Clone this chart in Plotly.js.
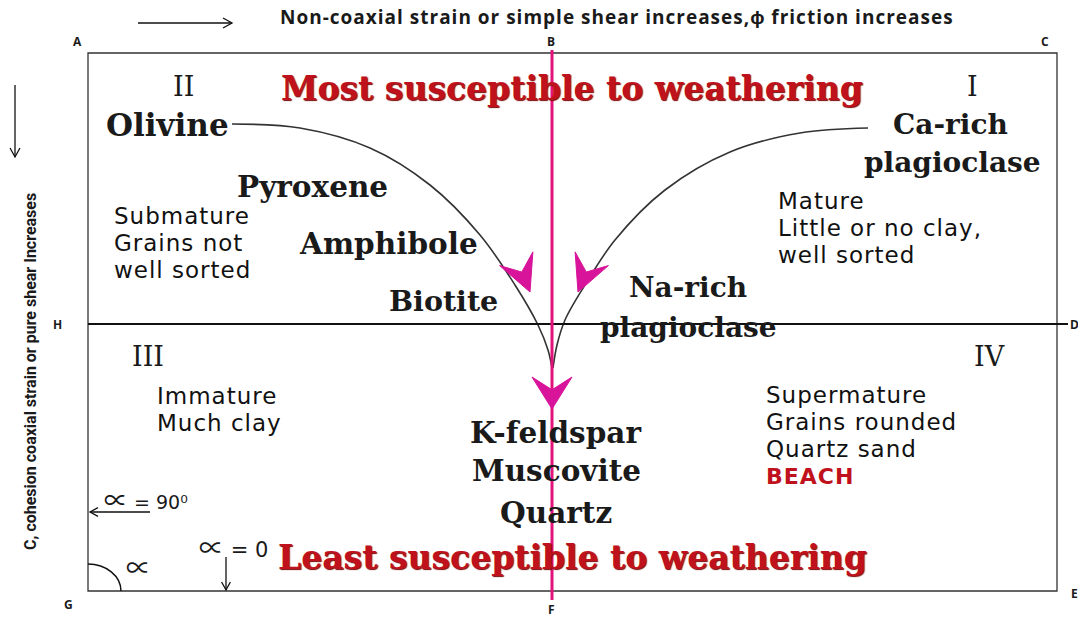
<!DOCTYPE html>
<html>
<head>
<meta charset="utf-8">
<script src="https://cdn.plot.ly/plotly-3.0.1.min.js"></script>
<style>html,body{margin:0;padding:0;background:#fff;}#chart{width:1078px;height:617px;}</style>
</head>
<body>
<div id="chart"></div>
<script>
// ---------- data ----------
const topAxisTitle = 'Non-coaxial strain or simple shear increases,\u03d5 friction increases';
const sideAxisTitle = 'C, cohesion coaxial strain or pure shear Increases';
const cornerLabels = ['A', 'B', 'C', 'H', 'D', 'G', 'F', 'E'];
const quadrantLabels = ['I', 'II', 'III', 'IV'];
const headlineTop = 'Most susceptible to weathering';
const headlineBottom = 'Least susceptible to weathering';
const mineralsLeft = ['Olivine', 'Pyroxene', 'Amphibole', 'Biotite'];
const mineralsRight = ['Ca-rich', 'plagioclase', 'Na-rich', 'plagioclase'];
const mineralsBottom = ['K-feldspar', 'Muscovite', 'Quartz'];
const notesII = ['Submature', 'Grains not', 'well sorted'];
const notesI = ['Mature', 'Little or no clay,', 'well sorted'];
const notesIII = ['Immature', 'Much clay'];
const notesIV = ['Supermature', 'Grains rounded', 'Quartz sand'];
const notesIVHighlight = 'BEACH';
const angleSymbol = '\u221d';
const angleValues = [' = 90\u2070', '', ' = 0'];
// reaction-series curves (diagram pixel units)
const leftCurveX = [232, 300, 370, 430, 480, 515, 538, 548, 552];
const leftCurveY = [124, 128, 148, 185, 235, 285, 325, 350, 368];
const rightCurveX = [868, 800, 730, 665, 615, 585, 565, 557, 553];
const rightCurveY = [128, 133, 152, 190, 240, 285, 320, 345, 368];

// ---------- placement ----------
const W = 1078, H = 617;
const box = {x0: 88, x1: 1057, y0: 53, y1: 591};
const midY = 324, midX = 552;

const serif = 'DejaVu Serif, Liberation Serif, serif';
const sans = 'DejaVu Sans, Open Sans, sans-serif';
const red = '#c0121d';
const magenta = '#d8149a';
const pinkLine = '#e2137a';

const ann = [];
function txt(text, x, y, size, opts) {
  opts = opts || {};
  ann.push(Object.assign({
    text: text, x: x, y: y, xref: 'x', yref: 'y', showarrow: false,
    xanchor: 'center', yanchor: 'middle',
    font: {family: opts.family || serif, size: size, color: opts.color || '#1a1a1a', weight: opts.weight || 'normal', shadow: opts.shadow || 'none'}
  }, opts.extra || {}));
}
function spaced(t, px) { return '<span style="letter-spacing:' + px + 'px">' + t + '</span>'; }
function wideSym(s, px) { return '<span style="font-family:\'Noto Sans CJK JP\';font-size:' + px + 'px">' + s + '</span>'; }

// corner letters
const cornerPos = [[77, 41], [551, 41], [1045, 41], [57, 324], [1074, 324], [68, 604], [551, 609], [1074, 593]];
cornerLabels.forEach((t, i) => txt(t, cornerPos[i][0], cornerPos[i][1], 12, {family: 'Open Sans, sans-serif', weight: 'bold'}));

// top title and left title
txt(spaced(topAxisTitle, 1), 617, 17, 19, {family: 'Open Sans, sans-serif', weight: 'bold'});
txt(sideAxisTitle, 30, 372, 16, {family: 'Liberation Sans Narrow, Roboto, sans-serif', weight: 'bold', extra: {textangle: -90}});

// quadrants
const quadPos = [[972, 86], [183, 86], [148, 356], [989, 356]];
quadrantLabels.forEach((t, i) => txt(t, quadPos[i][0], quadPos[i][1], 27, {family: serif}));

// headlines
const shadow = '1px 1px 1px #7a0a0a';
txt(headlineTop, 572, 88, 33, {color: red, weight: 'bold', shadow: shadow});
txt(headlineBottom, 572, 557, 33, {color: red, weight: 'bold', shadow: shadow});

// minerals
const leftPos = [[167, 125], [312, 186], [388, 243], [443, 301]];
const leftSize = [31, 29.5, 29.5, 28.5];
mineralsLeft.forEach((t, i) => txt(t, leftPos[i][0], leftPos[i][1], leftSize[i], {weight: 'bold'}));
const rightPos = [[950, 124], [952, 162], [688, 287], [688, 327]];
mineralsRight.forEach((t, i) => txt(t, rightPos[i][0], rightPos[i][1], 28, {weight: 'bold'}));
const bottomPos = [[555, 432], [556, 470], [556, 512]];
mineralsBottom.forEach((t, i) => txt(t, bottomPos[i][0], bottomPos[i][1], 29.5, {weight: 'bold'}));

// notes
function notes(lines, x, y0, dy, color) {
  lines.forEach((t, i) => txt(spaced(t, 1), x, y0 + i * dy, 23, {family: sans, color: color || '#111', extra: {xanchor: 'left'}}));
}
notes(notesII, 112, 216, 27);
notes(notesI, 776, 201, 27);
notes(notesIII, 155, 396, 27);
notes(notesIV, 764, 395, 27);
txt(spaced(notesIVHighlight, 1), 764, 476, 22, {family: sans, color: red, weight: 'bold', extra: {xanchor: 'left'}});

// angle labels
txt(wideSym(angleSymbol, 24) + angleValues[0], 102, 498, 19, {family: sans, extra: {xanchor: 'left'}});
txt(wideSym(angleSymbol, 25) + angleValues[1], 138, 566, 24, {family: sans});
txt(wideSym(angleSymbol, 25) + angleValues[2], 197, 546, 21, {family: sans, extra: {xanchor: 'left'}});

// ---------- shapes ----------
const shapes = [];
shapes.push({type: 'rect', x0: box.x0, x1: box.x1, y0: box.y0, y1: box.y1, line: {color: '#333', width: 1.3}});
shapes.push({type: 'line', x0: box.x0, x1: 1068, y0: midY, y1: midY, line: {color: '#111', width: 2}});
shapes.push({type: 'line', x0: midX, x1: midX, y0: 50, y1: 600, line: {color: pinkLine, width: 3}});
// angle arc at G
shapes.push({type: 'path', path: `M 88 564 C 106 564 121 576 121 591`, line: {color: '#111', width: 1.5}});
// thin arrows
function lineArrow(x0, y0, x1, y1, hl) {
  shapes.push({type: 'line', x0: x0, y0: y0, x1: x1, y1: y1, line: {color: '#111', width: 1.3}});
  const dx = x1 - x0, dy = y1 - y0, L = Math.hypot(dx, dy), ux = dx / L, uy = dy / L;
  const nx = -uy, ny = ux;
  shapes.push({type: 'path', path: `M ${x1 - hl * ux + hl * 0.55 * nx} ${y1 - hl * uy + hl * 0.55 * ny} L ${x1} ${y1} L ${x1 - hl * ux - hl * 0.55 * nx} ${y1 - hl * uy - hl * 0.55 * ny}`, line: {color: '#111', width: 1.3}});
}
lineArrow(138, 23, 232, 23, 9);
lineArrow(15, 85, 15, 157, 9);
lineArrow(150, 512, 90, 512, 8);
lineArrow(226, 557, 226, 590, 8);

// chevron arrowheads
function chevron(tx, ty, dx, dy, L, Wd) {
  const l = Math.hypot(dx, dy); dx /= l; dy /= l;
  const nx = -dy, ny = dx;
  const p = [
    [tx, ty],
    [tx - L * dx + Wd * nx, ty - L * dy + Wd * ny],
    [tx - 0.6 * L * dx, ty - 0.6 * L * dy],
    [tx - L * dx - Wd * nx, ty - L * dy - Wd * ny]
  ];
  shapes.push({type: 'path', path: `M ${p[0][0]} ${p[0][1]} L ${p[1][0]} ${p[1][1]} L ${p[2][0]} ${p[2][1]} L ${p[3][0]} ${p[3][1]} Z`,
    fillcolor: magenta, line: {color: magenta, width: 1}});
}
chevron(530, 292, 0.38, 0.92, 36, 18);
chevron(578, 292, -0.38, 0.92, 36, 18);
chevron(552, 409, 0, 1, 32, 20);

// ---------- traces ----------
const traces = [
  {x: leftCurveX, y: leftCurveY, mode: 'lines', line: {color: '#333', width: 1.6, shape: 'spline'}, hoverinfo: 'skip'},
  {x: rightCurveX, y: rightCurveY, mode: 'lines', line: {color: '#333', width: 1.6, shape: 'spline'}, hoverinfo: 'skip'}
];

const layout = {
  width: W, height: H,
  margin: {l: 0, r: 0, t: 0, b: 0},
  paper_bgcolor: '#fff', plot_bgcolor: '#fff',
  showlegend: false,
  xaxis: {range: [0, W], visible: false, fixedrange: true},
  yaxis: {range: [H, 0], visible: false, fixedrange: true},
  shapes: shapes,
  annotations: ann
};
Plotly.newPlot('chart', traces, layout, {staticPlot: true});
</script>
</body>
</html>
